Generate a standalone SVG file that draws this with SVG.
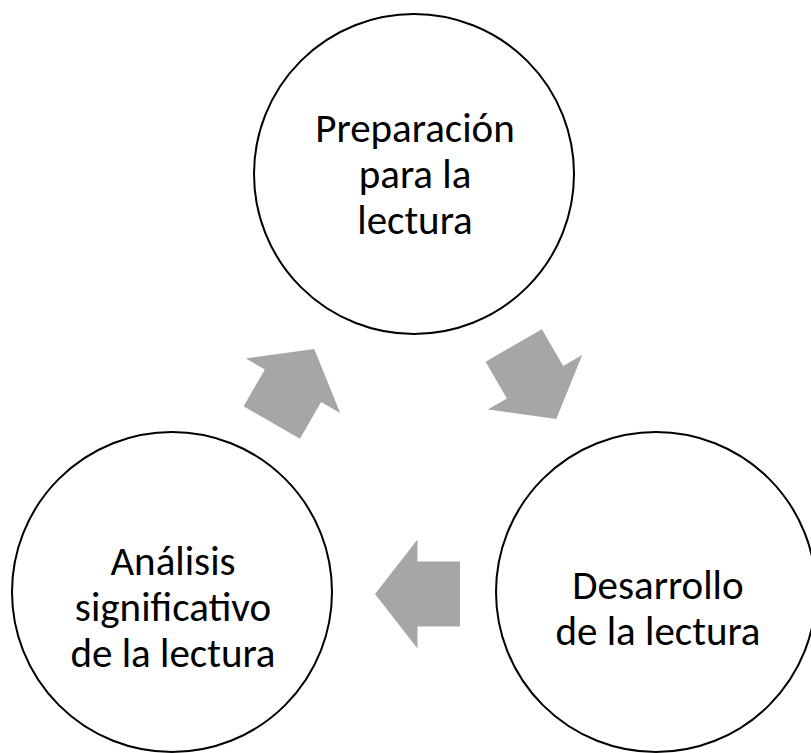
<svg xmlns="http://www.w3.org/2000/svg" width="811" height="753" viewBox="0 0 811 753">
  <style>
    .node circle { fill: #ffffff; stroke: #000000; stroke-width: 2; }
    .node text { font-family: Carlito, Calibri, Lato, "Liberation Sans", sans-serif; font-size: 41px; fill: #000000; text-anchor: middle; }
    .arrow { fill: #A6A6A6; stroke: none; }
  </style>
  <defs>
    <polygon id="arr" points="42.5,0 0,-54.5 0,-32.5 -42.5,-32.5 -42.5,32.5 0,32.5 0,54.5"/>
  </defs>
  <rect width="811" height="753" fill="#ffffff"/>
  <g id="connectors">
    <use href="#arr" class="arrow" transform="translate(293,385.7) rotate(-60)"/>
    <use href="#arr" class="arrow" transform="translate(535,382.2) rotate(60)"/>
    <use href="#arr" class="arrow" transform="translate(417.5,594) rotate(180)"/>
  </g>
  <g id="node-preparacion" class="node">
    <circle cx="414" cy="174" r="160"/>
    <text x="415" y="142">Preparación</text>
    <text x="415" y="188">para la</text>
    <text x="415" y="234">lectura</text>
  </g>
  <g id="node-desarrollo" class="node">
    <circle cx="656" cy="592" r="160"/>
    <text x="658" y="599">Desarrollo</text>
    <text x="658" y="645">de la lectura</text>
  </g>
  <g id="node-analisis" class="node">
    <circle cx="172" cy="592" r="160"/>
    <text x="173" y="575">Análisis</text>
    <text x="173" y="621">significativo</text>
    <text x="173" y="667">de la lectura</text>
  </g>
</svg>
